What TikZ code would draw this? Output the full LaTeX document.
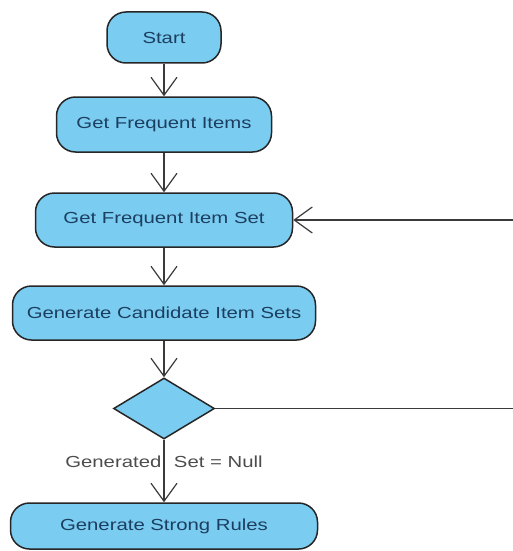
\documentclass[tikz,border=0pt]{standalone}
\usepackage{fontspec}
\setmainfont[FakeStretch=1.27]{Liberation Sans}
\usetikzlibrary{shapes.geometric,arrows.meta}
\definecolor{boxfill}{RGB}{122,204,240}
\definecolor{boxtext}{RGB}{28,62,96}
\definecolor{linegray}{RGB}{58,58,58}
\begin{document}
\begin{tikzpicture}[x=1pt,y=-1pt,
        activity/.style={draw=black!85,line width=1.5pt,fill=boxfill,rounded corners=19pt,
                inner sep=0pt,text=boxtext,font=\fontsize{16}{18}\selectfont},
        decision/.style={diamond,draw=black!85,line width=1.5pt,fill=boxfill,inner sep=0pt},
        flow/.style={draw=linegray,line width=1.2pt,-{Straight Barb[length=18pt,width=26pt,line width=1.2pt]}},
        guard/.style={text=black!70,font=\fontsize{16}{18}\selectfont,inner sep=0pt}]
        \def\cx{164}
        \useasboundingbox (0,0) rectangle (512,551);

        \node [activity,minimum width=114pt,minimum height=51pt] (start) at (\cx,37.5) {Start};
        \node [activity,minimum width=215pt,minimum height=55pt] (items) at (\cx,124.5) {Get Frequent Items};
        \node [activity,minimum width=257pt,minimum height=54pt] (itemset) at (\cx,220) {Get Frequent Item Set};
        \node [activity,minimum width=303pt,minimum height=54pt] (cand) at (\cx,313) {Generate Candidate Item Sets};
        \node [decision,minimum width=101pt,minimum height=61pt] (test) at (\cx,408.5) {};
        \node [activity,minimum width=307pt,minimum height=46pt] (rules) at (\cx,526) {Generate Strong Rules};
        \coordinate (back) at (518,408.5);

        \draw [flow] (start) -- (items);
        \draw [flow] (items) -- (itemset);
        \draw [flow] (itemset) -- (cand);
        \draw [flow] (cand) -- (test);
        \draw [flow] (test) -- node [guard,pos=0.36] {Generated\hspace{7pt} Set = Null} (rules);
        % loop back
        \draw [flow] (test.east) -- (back) -- (back |- itemset) -- (itemset.east);
\end{tikzpicture}
\end{document}
